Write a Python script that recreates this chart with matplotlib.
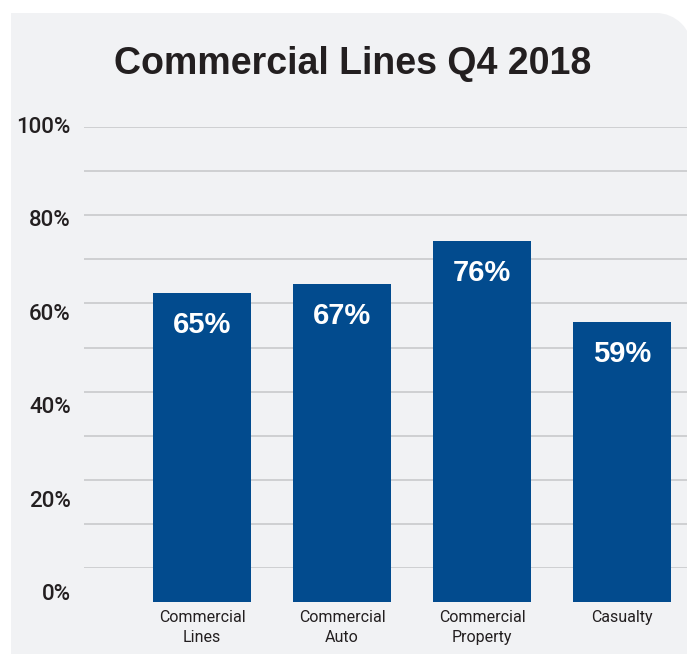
import matplotlib
matplotlib.use("Agg")
import matplotlib.pyplot as plt
from matplotlib.patches import Rectangle, Circle

# data
categories = ["Commercial\nLines", "Commercial\nAuto", "Commercial\nProperty", "Casualty"]
values = [65, 67, 76, 59]
value_labels = ["65%", "67%", "76%", "59%"]
tick_values = [0, 20, 40, 60, 80, 100]
tick_labels = ["0%", "20%", "40%", "60%", "80%", "100%"]
grid_values = list(range(0, 101, 10))

W, H = 687, 654
bar_color = "#024b8e"
panel_color = "#f1f2f4"
grid_color = "#cfd0d2"
regular = ["Liberation Sans", "DejaVu Sans"]
medium = ["Roboto", "Liberation Sans", "DejaVu Sans"]

fig = plt.figure(figsize=(W / 100, H / 100), dpi=100)
fig.patch.set_facecolor("white")

# background panel with a rounded top-right corner (pixel coords)
bg = fig.add_axes([0, 0, 1, 1])
bg.set_xlim(0, W)
bg.set_ylim(H, 0)
bg.axis("off")
r = 36
left, top, right, bottom = 11, 13, 692, 660
bg.add_patch(Rectangle((left, top), right - r - left, bottom - top, color=panel_color, lw=0))
bg.add_patch(Rectangle((left, top + r), right - left, bottom - top - r, color=panel_color, lw=0))
bg.add_patch(Circle((right - r, top + r), r, color=panel_color, lw=0))


def px_axes(x0, x1, y_bottom, y_top):
    return fig.add_axes([x0 / W, 1 - y_bottom / H, (x1 - x0) / W, (y_bottom - y_top) / H])


xlim = (-118 / 140, 3 + 65 / 140)

# gridlines
gax = px_axes(84, 687, 568, 127)
gax.set_xlim(*xlim)
gax.set_ylim(0, 100)
gax.set_yticks(grid_values)
gax.set_xticks([])
gax.yaxis.grid(True, color=grid_color, lw=1.4)
gax.tick_params(axis="y", length=0, labelleft=False)
gax.patch.set_alpha(0)
for s in gax.spines.values():
    s.set_visible(False)

# y tick labels
lax = px_axes(84, 687, 592, 125)
lax.set_ylim(0, 100)
lax.set_yticks(tick_values)
lax.set_yticklabels(tick_labels, fontsize=16, color="#231f20", family=medium, fontweight="medium")
lax.tick_params(axis="y", length=0, pad=9.5)
lax.set_xticks([])
lax.patch.set_alpha(0)
for s in lax.spines.values():
    s.set_visible(False)

# bars
ax = px_axes(84, 687, 602, 127)
ax.set_xlim(*xlim)
ax.set_ylim(0, 100)
x = range(len(categories))
ax.bar(x, values, width=0.7, color=bar_color, zorder=3)
for xi, v, lab in zip(x, values, value_labels):
    ax.annotate(lab, (xi, v), xytext=(0, -23), textcoords="offset points",
                ha="center", va="center", color="white", fontsize=21,
                fontweight="bold", family=regular)
ax.set_xticks(list(x))
ax.set_xticklabels(categories, fontsize=11.5, color="#231f20", family=medium, linespacing=1.4)
ax.tick_params(axis="x", length=0, pad=6)
ax.set_yticks([])
ax.patch.set_alpha(0)
for s in ax.spines.values():
    s.set_visible(False)

fig.text(353 / W, 1 - 64 / H, "Commercial Lines Q4 2018", ha="center", va="center",
         fontsize=27, fontweight="bold", color="#231f20", family=regular)

fig.savefig("out.png", dpi=100)
